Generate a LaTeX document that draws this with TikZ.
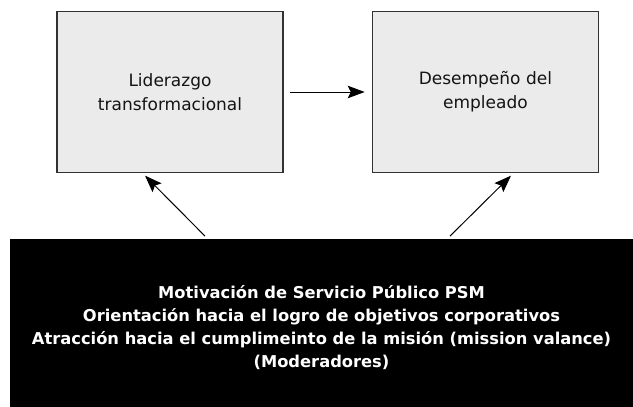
\documentclass[tikz,border=0pt]{standalone}
\usepackage{fontspec}
\setmainfont{DejaVu Sans}
\usetikzlibrary{arrows.meta}
\definecolor{boxfill}{RGB}{234,235,234}
\definecolor{boxline}{RGB}{50,50,50}
\definecolor{txt}{RGB}{20,20,20}
\begin{document}
\begin{tikzpicture}[x=1pt,y=-1pt,
  varbox/.style={draw=boxline, line width=1.3pt, fill=boxfill, minimum width=226pt,
    minimum height=161pt, align=center, text=txt, font=\fontsize{17}{24}\selectfont},
  modbox/.style={fill=black, draw=none, minimum width=623pt, minimum height=176pt,
    align=center, text=white, font=\fontsize{16.3}{23}\selectfont\bfseries},
  arr/.style={line width=1pt, -{Stealth[length=17pt,width=12.5pt,inset=3pt]}}]
\useasboundingbox (0,0) rectangle (633,407);
\node[varbox] (lbox) at (170,92) {Liderazgo\\transformacional};
\node[varbox] (rbox) at (485.4,92) {Desempeño del\\empleado};
\node[modbox] (psm) at (321.5,327.3) {Motivación de Servicio Público PSM\\
Orientación hacia el logro de objetivos corporativos\\
Atracción hacia el cumplimeinto de la misión (mission valance)\\
(Moderadores)};
\draw[arr] ([xshift=6pt]lbox.east) -- ([xshift=-7pt]rbox.west);
\draw[arr] ([xshift=-116.5pt,yshift=3pt]psm.north) -- ([xshift=-25pt,yshift=-2.5pt]lbox.south);
\draw[arr] ([xshift=128.5pt,yshift=3pt]psm.north) -- ([xshift=25.6pt,yshift=-2.5pt]rbox.south);
\end{tikzpicture}
\end{document}
